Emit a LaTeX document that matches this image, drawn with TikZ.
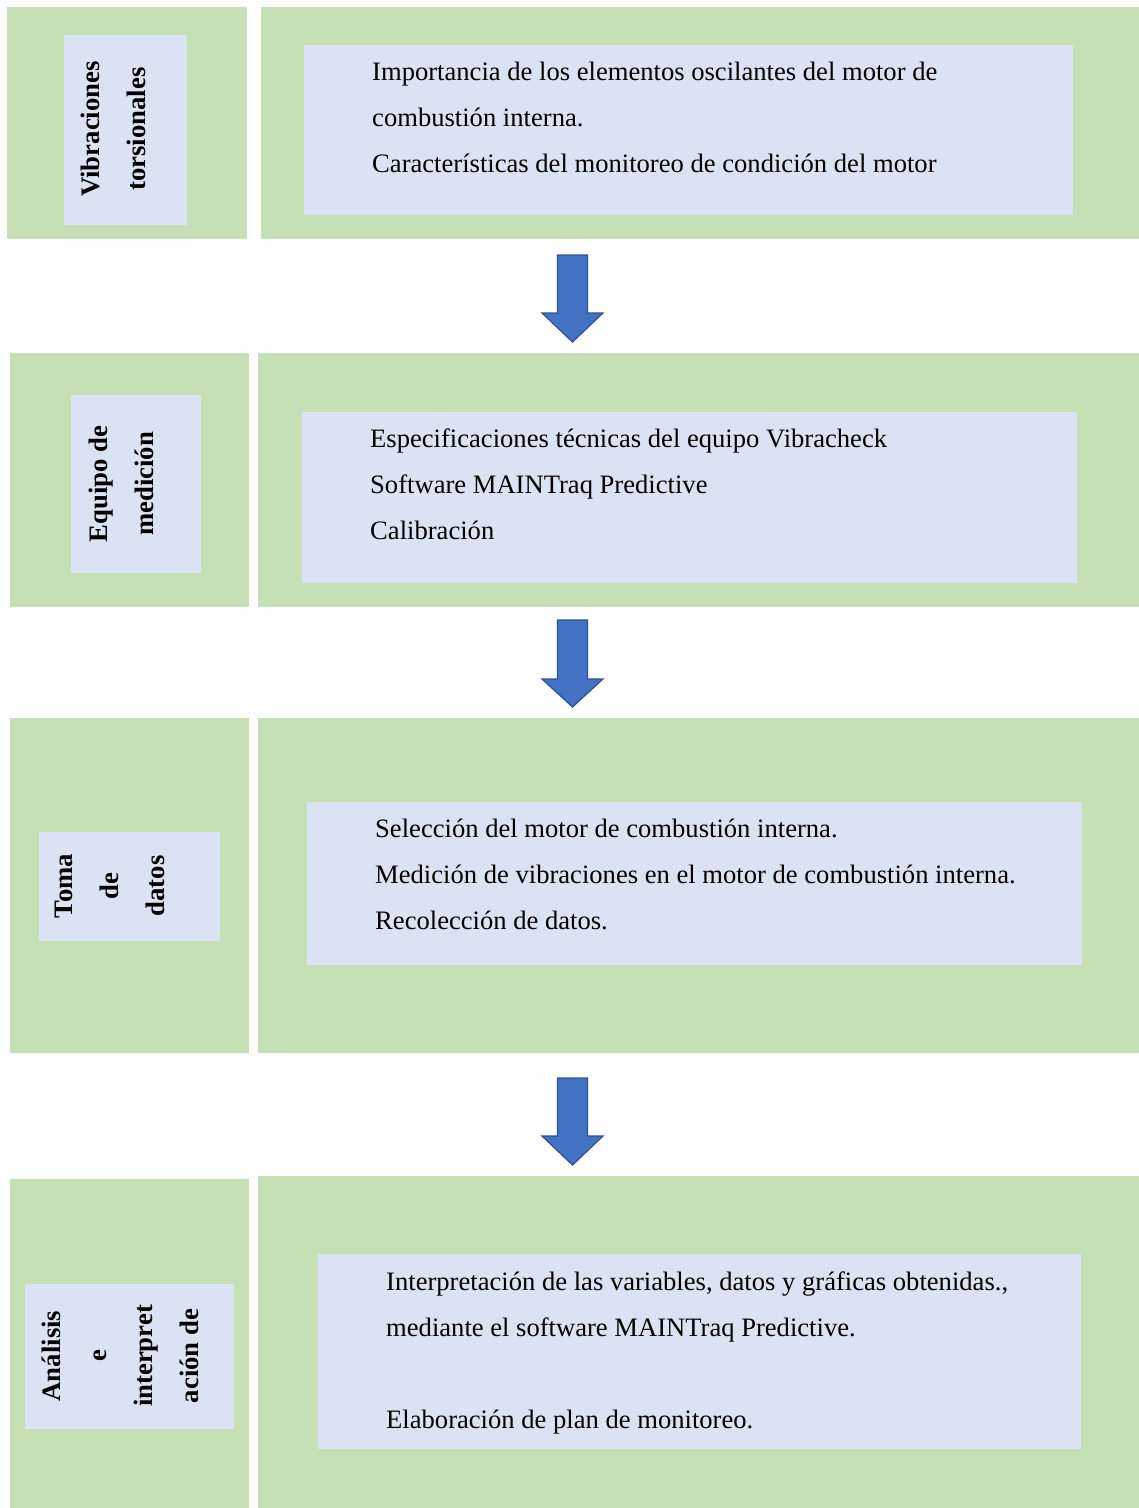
\documentclass[tikz,border=0pt]{standalone}
\usepackage{fontspec}
\setmainfont{Liberation Serif}
\definecolor{grn}{HTML}{C5E0B4}
\definecolor{lblue}{HTML}{DAE3F3}
\definecolor{arrfill}{HTML}{4472C4}
\definecolor{arrdraw}{HTML}{2F528F}
\begin{document}
\begin{tikzpicture}[x=1pt,y=-1pt,
  panel/.style={fill=grn,draw=none},
  inner/.style={fill=lblue,draw=none},
  vlabel/.style={rotate=90,align=center,inner sep=0pt,font=\fontsize{26.7}{46}\selectfont\bfseries},
  line/.style={anchor=base west,inner sep=0pt,font=\fontsize{26.6}{30}\selectfont},
  blockarrow/.style={fill=arrfill,draw=arrdraw,line width=1.2pt,line join=miter}]
\fill[white] (0,0) rectangle (1139,1508);
\useasboundingbox (0,0) rectangle (1139,1508);
% Row 1
\fill[panel] (7,7) rectangle (247,239);
\fill[inner] (64,35) rectangle (187,225);
\fill[panel] (261,7) rectangle (1139,239);
\fill[inner] (304,45) rectangle (1073,215);
\node[vlabel] (l1) at (113,129) {Vibraciones\\torsionales};
\node[line] (t11) at (372,80) {Importancia de los elementos oscilantes del motor de};
\node[line] (t12) at (372,126) {combustión interna.};
\node[line] (t13) at (372,172) {Características del monitoreo de condición del motor};
% Arrow 1
\coordinate (a1) at (572.5,255);
\draw[blockarrow] (a1) ++(-15,0) -- ++(30,0) -- ++(0,58) -- ++(15.5,0) -- (572.5,342) -- (542,313) -- ++(15.5,0) -- cycle;
% Row 2
\fill[panel] (10,353) rectangle (249,607);
\fill[inner] (71,395) rectangle (201,573);
\fill[panel] (258,353) rectangle (1139,607);
\fill[inner] (302,412) rectangle (1077,583);
\node[vlabel] (l2) at (121,484) {Equipo de\\medición};
\node[line] (t21) at (370,447) {Especificaciones técnicas del equipo Vibracheck};
\node[line] (t22) at (370,493) {Software MAINTraq Predictive};
\node[line] (t23) at (370,539) {Calibración};
% Arrow 2
\coordinate (a2) at (572.5,620);
\draw[blockarrow] (a2) ++(-15,0) -- ++(30,0) -- ++(0,59) -- ++(15.5,0) -- (572.5,707) -- (542,679) -- ++(15.5,0) -- cycle;
% Row 3
\fill[panel] (10,718) rectangle (249,1053);
\fill[inner] (39,832) rectangle (220,941);
\fill[panel] (258,718) rectangle (1139,1053);
\fill[inner] (307,802) rectangle (1082,965);
\node[vlabel] (l3) at (110,886) {Toma\\de\\datos};
\node[line] (t31) at (375,837) {Selección del motor de combustión interna.};
\node[line] (t32) at (375,883) {Medición de vibraciones en el motor de combustión interna.};
\node[line] (t33) at (375,929) {Recolección de datos.};
% Arrow 3
\coordinate (a3) at (572.5,1078);
\draw[blockarrow] (a3) ++(-15,0) -- ++(30,0) -- ++(0,58) -- ++(15.5,0) -- (572.5,1165) -- (542,1136) -- ++(15.5,0) -- cycle;
% Row 4
\fill[panel] (10,1179) rectangle (249,1508);
\fill[inner] (25,1284) rectangle (234,1429);
\fill[panel] (258,1176) rectangle (1139,1508);
\fill[inner] (318,1254) rectangle (1081,1449);
\node[vlabel] (l4) at (120,1356) {Análisis\\e\\interpret\\ación de};
\node[line] (t41) at (386,1290) {Interpretación de las variables, datos y gráficas obtenidas.,};
\node[line] (t42) at (386,1336) {mediante el software MAINTraq Predictive.};
\node[line] (t43) at (386,1428) {Elaboración de plan de monitoreo.};
\end{tikzpicture}
\end{document}
